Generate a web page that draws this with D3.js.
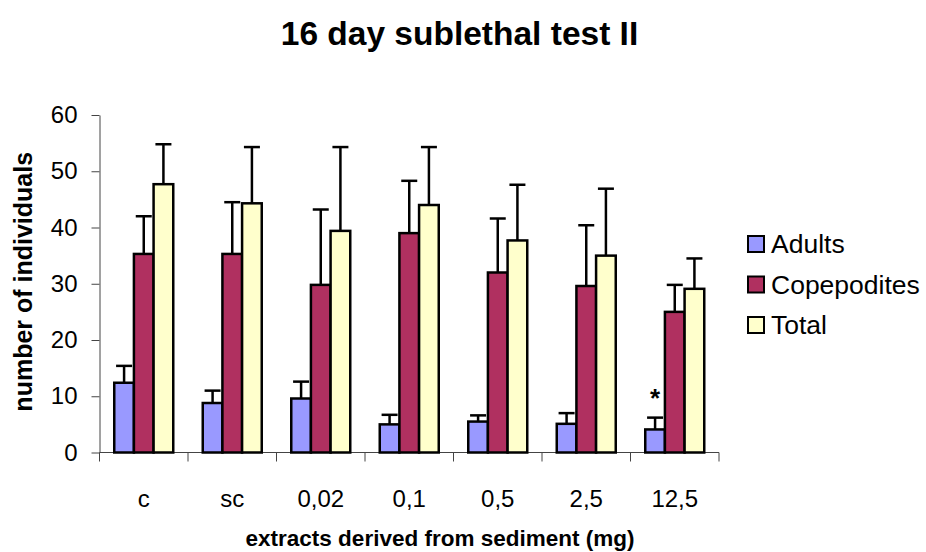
<!DOCTYPE html>
<html>
<head>
<meta charset="utf-8">
<script src="https://cdn.jsdelivr.net/npm/d3@7"></script>
<style>
  html, body { margin: 0; padding: 0; background: #fff; }
  svg { display: block; font-family: "Liberation Sans", Arial, sans-serif; }
</style>
</head>
<body>
<svg id="chart" width="926" height="552"></svg>
<script>
const categories = ["c", "sc", "0,02", "0,1", "0,5", "2,5", "12,5"];
const seriesNames = ["Adults", "Copepodites", "Total"];
const adults = [12.4, 8.8, 9.6, 5.0, 5.5, 5.1, 4.1];
const adultsErr = [3.0, 2.2, 3.0, 1.7, 1.1, 1.9, 2.1];
const copepodites = [35.3, 35.3, 29.8, 39.0, 32.0, 29.6, 25.0];
const copepoditesErr = [6.7, 9.2, 13.4, 9.3, 9.6, 10.8, 4.8];
const total = [47.7, 44.3, 39.4, 44.0, 37.7, 35.0, 29.1];
const totalErr = [7.1, 10.0, 14.9, 10.3, 9.9, 11.9, 5.4];
const yTicks = [0, 10, 20, 30, 40, 50, 60];
const significant = ["12,5"]; // asterisk on Adults
const colors = ["#9999FF", "#B03060", "#FFFFCC"];

(function () {
const seriesValues = [adults, copepodites, total];
const seriesErrs = [adultsErr, copepoditesErr, totalErr];

const svg = d3.select("#chart");
const pLeft = 99.5, pRight = 719, pTop = 115, pBottom = 452.5;

const x = d3.scaleBand().domain(categories).range([pLeft, pRight]).paddingInner(0).paddingOuter(0);
const barW = x.bandwidth() / 4.5;
const xs = d3.scaleBand().domain(seriesNames).range([0, barW * 3]);
const groupOffset = (x.bandwidth() - barW * 3) / 2;
const y = d3.scaleLinear().domain([0, 60]).range([pBottom, pTop]);

// Title
svg.append("text").attr("x", 459.5).attr("y", 45).attr("text-anchor", "middle")
  .attr("font-size", 33.5).attr("font-weight", "bold").attr("fill", "#000")
  .text("16 day sublethal test II");

// Y axis
const yAxis = d3.axisLeft(y).tickValues(yTicks).tickSize(8).tickPadding(14).tickSizeOuter(0);
const gy = svg.append("g").attr("transform", `translate(${pLeft},0)`).call(yAxis);
gy.attr("font-size", 24).attr("font-family", "Liberation Sans, Arial, sans-serif");
gy.select(".domain").attr("stroke", "#444").attr("stroke-width", 1);
gy.selectAll(".tick line").attr("stroke", "#444");
gy.selectAll(".tick text").attr("font-size", 24).attr("fill", "#000");

// X axis (ticks on category boundaries)
svg.append("line").attr("x1", pLeft).attr("x2", pRight).attr("y1", pBottom).attr("y2", pBottom)
  .attr("stroke", "#444").attr("stroke-width", 1);
const boundaries = categories.map(c => x(c)).concat([x(categories[categories.length - 1]) + x.bandwidth()]);
svg.append("g").selectAll("line").data(boundaries).join("line")
  .attr("x1", d => d).attr("x2", d => d).attr("y1", pBottom).attr("y2", pBottom + 9)
  .attr("stroke", "#444").attr("stroke-width", 1);
svg.append("g").selectAll("text").data(categories).join("text")
  .attr("x", d => x(d) + x.bandwidth() / 2).attr("y", 507)
  .attr("text-anchor", "middle").attr("font-size", 24).attr("fill", "#000")
  .text(d => d);

// Bars
seriesNames.forEach((s, si) => {
  const g = svg.append("g");
  g.selectAll("rect").data(categories).join("rect")
    .attr("x", (c) => x(c) + groupOffset + xs(s))
    .attr("y", (c, i) => y(seriesValues[si][i]))
    .attr("width", barW)
    .attr("height", (c, i) => y(0) - y(seriesValues[si][i]))
    .attr("fill", colors[si]).attr("stroke", "#000").attr("stroke-width", 2.5);
  const eb = svg.append("g").attr("stroke", "#000").attr("stroke-width", 2.5);
  categories.forEach((c, i) => {
    const cx = x(c) + groupOffset + xs(s) + barW / 2;
    const v = seriesValues[si][i], e = seriesErrs[si][i];
    eb.append("line").attr("x1", cx).attr("x2", cx).attr("y1", y(v)).attr("y2", y(v + e));
    eb.append("line").attr("x1", cx - 8).attr("x2", cx + 8).attr("y1", y(v + e)).attr("y2", y(v + e));
  });
});

// Significance asterisk
significant.forEach(c => {
  const i = categories.indexOf(c);
  const cx = x(c) + groupOffset + xs("Adults") + barW / 2;
  svg.append("text").attr("x", cx).attr("y", y(adults[i] + adultsErr[i]) - 11)
    .attr("text-anchor", "middle").attr("font-size", 26).attr("font-weight", "bold")
    .text("*");
});

// Axis titles
svg.append("text").attr("transform", `translate(32,${(pTop + pBottom) / 2 - 2}) rotate(-90)`)
  .attr("text-anchor", "middle").attr("font-size", 25).attr("font-weight", "bold")
  .text("number of individuals");
svg.append("text").attr("x", 440).attr("y", 546).attr("text-anchor", "middle")
  .attr("font-size", 22.5).attr("font-weight", "bold")
  .text("extracts derived from sediment (mg)");

// Legend
const legend = svg.append("g").attr("transform", "translate(748,236)");
seriesNames.forEach((s, i) => {
  const row = legend.append("g").attr("transform", `translate(0,${i * 40.5})`);
  row.append("rect").attr("x", 0).attr("y", 0).attr("width", 16).attr("height", 16)
    .attr("fill", colors[i]).attr("stroke", "#000").attr("stroke-width", 2);
  row.append("text").attr("x", 23).attr("y", 17).attr("font-size", 26.5).attr("fill", "#000").text(s);
});
})();
</script>
</body>
</html>
